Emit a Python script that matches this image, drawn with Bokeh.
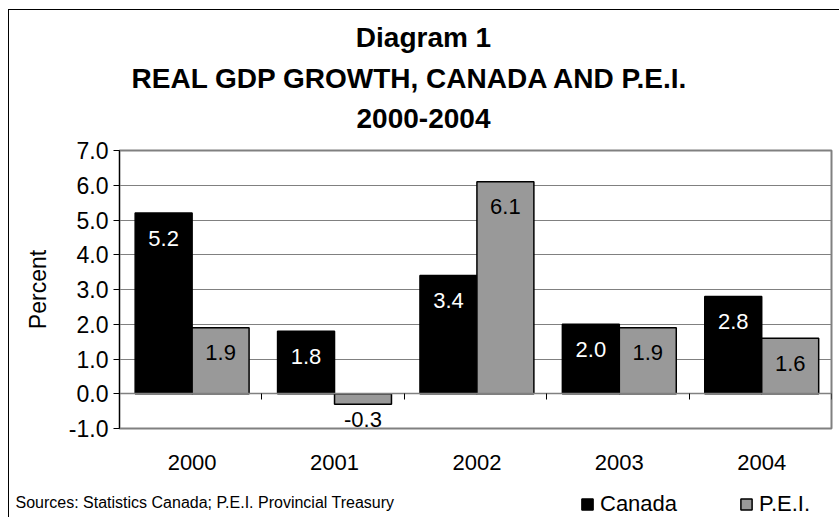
from bokeh.plotting import figure
from bokeh.layouts import column
from bokeh.models import (ColumnDataSource, LinearAxis, FixedTicker, LabelSet, Label,
                          Legend, LegendItem, NumeralTickFormatter)
from bokeh.core.properties import value
from bokeh.embed import file_html
from bokeh.resources import INLINE

# ---- data ----
years = ["2000", "2001", "2002", "2003", "2004"]
canada = [5.2, 1.8, 3.4, 2.0, 2.8]
pei = [1.9, -0.3, 6.1, 1.9, 1.6]
series_names = ["Canada", "P.E.I."]
title_lines = ["Diagram 1", "REAL GDP GROWTH, CANADA AND P.E.I.", "2000-2004"]
source_text = "Sources: Statistics Canada; P.E.I. Provincial Treasury"
y_ticks = [-1, 0, 1, 2, 3, 4, 5, 6, 7]

FONT = "Liberation Sans"
PAGE_W, PAGE_H = 839, 517
OX, OY = 9, 10                 # content origin inside the outer border (page px)
W = PAGE_W - OX
SPLIT1 = 135                   # page y where the title strip ends
SPLIT2 = 490                   # page y where the main chart ends
TOP_H = SPLIT1 - OY
MAIN_H = SPLIT2 - SPLIT1
BOT_H = PAGE_H - SPLIT2
FRAME_L, FRAME_R, FRAME_T, FRAME_B = 119, 831, 150, 428   # page px

COL_C, COL_P = "black", "#999999"


def blank_strip(h):
    f = figure(width=W, height=h, x_range=(0, 1), y_range=(0, 1),
               x_axis_type=None, y_axis_type=None, output_backend="svg",
               toolbar_location=None, min_border=0)
    f.outline_line_color = None
    f.background_fill_color = "white"
    f.border_fill_color = "white"
    return f


t = blank_strip(TOP_H)
q = blank_strip(BOT_H)

# ---------------- main chart ----------------
n = len(years)
centers = [i + 0.51 for i in range(n)]
bw = 0.40
dodge = 0.20

src_c = ColumnDataSource(dict(x=[c - dodge for c in centers], top=canada,
                              lab=[f"{v:.1f}" for v in canada],
                              off=[-25 if v >= 0 else -15 for v in canada]))
src_p = ColumnDataSource(dict(x=[c + dodge for c in centers], top=pei,
                              lab=[f"{v:.1f}" for v in pei],
                              off=[-25 if v >= 0 else -15 for v in pei]))

p = figure(width=W, height=MAIN_H, x_range=(0, n), y_range=(-1, 7),
           output_backend="svg", toolbar_location=None,
           min_border_left=FRAME_L - OX, min_border_right=PAGE_W - FRAME_R,
           min_border_top=FRAME_T - SPLIT1, min_border_bottom=SPLIT2 - FRAME_B)
p.background_fill_color = "white"
p.border_fill_color = "white"
p.outline_line_color = "#808080"
p.outline_line_width = 2

r_c = p.vbar(x="x", top="top", bottom=0, width=bw, source=src_c,
             fill_color=COL_C, line_color="black", line_width=1.5)
r_p = p.vbar(x="x", top="top", bottom=0, width=bw, source=src_p,
             fill_color=COL_P, line_color="black", line_width=1.5)

p.xgrid.visible = False
p.ygrid.ticker = FixedTicker(ticks=y_ticks)
p.ygrid.grid_line_color = "#808080"
p.ygrid.grid_line_width = 1
p.ygrid.level = "underlay"

ya = p.yaxis[0]
ya.ticker = FixedTicker(ticks=y_ticks)
ya.formatter = NumeralTickFormatter(format="0.0")
ya.minor_tick_line_color = None
ya.major_tick_in = 0
ya.major_tick_out = 6
ya.major_tick_line_color = "black"
ya.axis_line_color = "black"
ya.major_label_text_font = FONT
ya.major_label_text_font_size = "23px"
ya.major_label_text_color = "black"
ya.major_label_standoff = 5
ya.axis_label = "Percent"
ya.axis_label_text_font = FONT
ya.axis_label_text_font_size = "23px"
ya.axis_label_text_font_style = "normal"
ya.axis_label_text_color = "black"
ya.axis_label_standoff = 15

xa = p.xaxis[0]
xa.ticker = FixedTicker(ticks=centers)
xa.major_label_overrides = {c: y for c, y in zip(centers, years)}
xa.major_tick_in = 0
xa.major_tick_out = 0
xa.minor_tick_line_color = None
xa.axis_line_color = None
xa.major_label_text_font = FONT
xa.major_label_text_font_size = "22px"
xa.major_label_text_color = "black"
xa.major_label_standoff = 26

# zero line with category-boundary ticks
za = LinearAxis(fixed_location=0, ticker=FixedTicker(ticks=list(range(n + 1))))
za.axis_line_color = "#808080"
za.axis_line_width = 1.5
za.major_tick_in = 6
za.major_tick_out = 0
za.major_tick_line_color = "black"
za.minor_tick_line_color = None
za.major_label_standoff = 0
za.major_label_text_font_size = "0px"
za.major_label_text_color = None
p.add_layout(za, "above")

for src, col in ((src_c, "white"), (src_p, "black")):
    p.add_layout(LabelSet(x="x", y="top", text="lab", y_offset="off", source=src,
                          text_align="center", text_baseline="middle",
                          text_font=value(FONT), text_font_size=value("22px"),
                          text_color=col))

# frames of the strips should not be aligned with the main chart's frame
aligned = False
for f in (t, p, q):
    if "frame_align" in f.properties():
        f.frame_align = False
    else:
        aligned = True
XS = FRAME_L if aligned else OX   # page x of the strips' frame left edge

# ---------------- title strip ----------------
title_cx = [423, 410, 423]
title_cy = [37, 78, 118]
title_fs = ["28px", "28px", "28px"]
for txt, cx, cy, fs in zip(title_lines, title_cx, title_cy, title_fs):
    t.add_layout(Label(x=cx - XS, y=SPLIT1 - cy, x_units="screen", y_units="screen",
                       text=txt, text_align="center", text_baseline="middle",
                       text_font=FONT, text_font_size=fs, text_font_style="bold",
                       text_color="black"))

# ---------------- legend / source strip ----------------
q.add_layout(Label(x=15 - XS, y=PAGE_H - 502, x_units="screen", y_units="screen",
                   text=source_text, text_align="left", text_baseline="middle",
                   text_font=FONT, text_font_size="16px", text_color="black"))
lc = q.vbar(x="x", top="top", width=bw, source=src_c,
            fill_color=COL_C, line_color="black", line_width=1.5, visible=False)
lp = q.vbar(x="x", top="top", width=bw, source=src_p,
            fill_color=COL_P, line_color="black", line_width=1.5, visible=False)
legend = Legend(items=[LegendItem(label=series_names[0], renderers=[lc]),
                       LegendItem(label=series_names[1], renderers=[lp])],
                orientation="horizontal", location=(580 - XS, 0))
legend.inactive_fill_alpha = 0
legend.glyph_width = 14
legend.glyph_height = 14
legend.label_standoff = 6
legend.spacing = 62
legend.padding = 0
legend.margin = 0
legend.border_line_color = None
legend.background_fill_color = None
legend.label_text_font = FONT
legend.label_text_font_size = "22px"
legend.label_text_color = "black"
legend.label_height = 14
q.add_layout(legend, "center")

layout = column(t, p, q, spacing=0,
                styles={"margin-left": "8px", "margin-top": "9px",
                        "border-left": "1px solid black", "border-top": "1px solid black"})

open("out.html", "w").write(file_html(layout, INLINE))
